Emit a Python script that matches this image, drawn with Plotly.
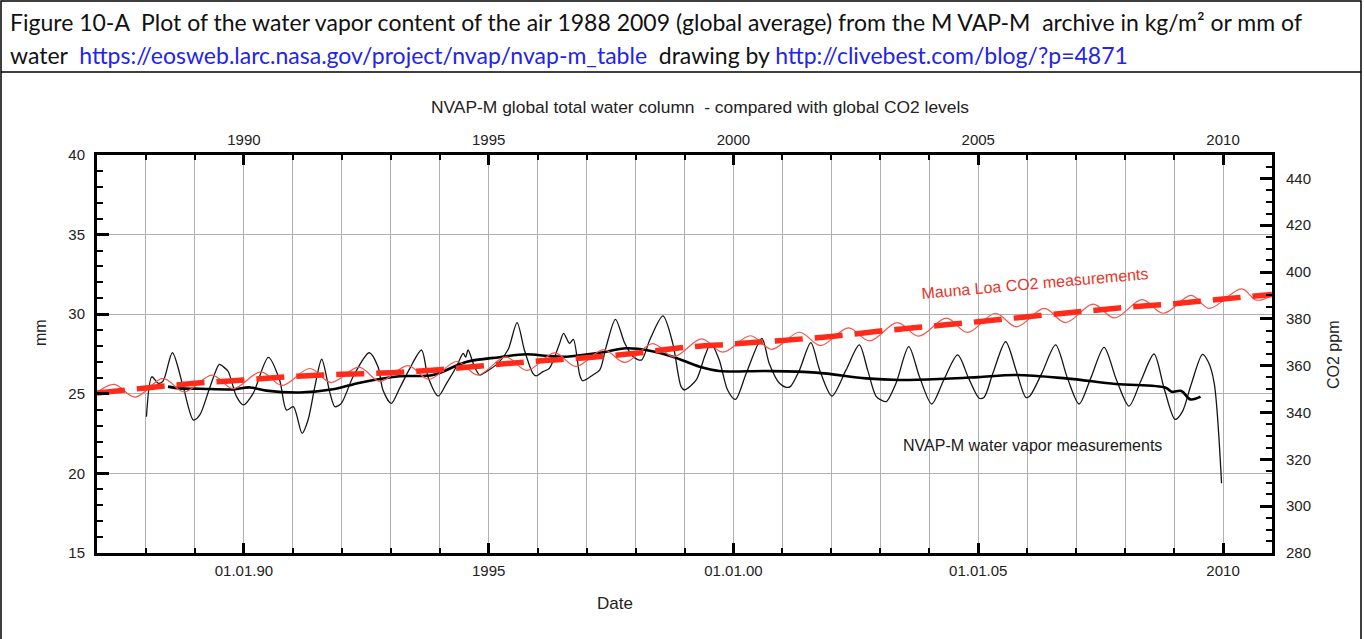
import plotly.graph_objects as go

# NVAP-M monthly global total precipitable water (mm), decimal years
wv_years = [1988.01, 1988.12, 1988.25, 1988.35, 1988.54, 1988.76, 1988.97, 1989.10, 1989.31, 1989.50,
            1989.58, 1989.68, 1989.85, 1989.99, 1990.19, 1990.50, 1990.73, 1990.87, 1991.01, 1991.19,
            1991.31, 1991.45, 1991.59, 1991.76, 1991.86, 1991.99, 1992.23, 1992.56, 1992.74, 1992.84,
            1993.01, 1993.18, 1993.39, 1993.63, 1993.76, 1993.97, 1994.14, 1994.34, 1994.48, 1994.53,
            1994.58, 1994.71, 1994.82, 1994.95, 1995.19, 1995.40, 1995.58, 1995.73, 1995.90, 1995.97,
            1996.11, 1996.24, 1996.45, 1996.53, 1996.65, 1996.73, 1996.86, 1996.92, 1997.13, 1997.27,
            1997.40, 1997.59, 1997.78, 1997.95, 1998.12, 1998.29, 1998.56, 1998.76, 1998.93, 1999.00,
            1999.24, 1999.41, 1999.54, 1999.71, 1999.88, 2000.04, 2000.26, 2000.58, 2000.73, 2000.94,
            2001.08, 2001.16, 2001.35, 2001.58, 2001.76, 2002.01, 2002.30, 2002.57, 2002.74, 2002.91,
            2003.02, 2003.12, 2003.32, 2003.58, 2003.80, 2004.05, 2004.30, 2004.58, 2004.80, 2005.02,
            2005.12, 2005.30, 2005.56, 2005.78, 2005.97, 2006.05, 2006.30, 2006.58, 2006.82, 2007.06,
            2007.30, 2007.57, 2007.82, 2008.08, 2008.32, 2008.59, 2008.80, 2009.02, 2009.17, 2009.35,
            2009.58, 2009.70, 2009.82, 2009.97]
wv_mm = [23.56, 26.07, 25.66, 25.80, 27.58, 25.45, 23.35, 23.67, 25.45, 26.85,
         26.70, 26.40, 24.82, 24.30, 25.03, 27.29, 25.87, 23.98, 24.19, 22.52,
         23.35, 25.45, 27.17, 25.03, 24.19, 24.40, 26.07, 27.58, 26.70, 25.24,
         24.40, 25.34, 26.60, 27.75, 26.07, 24.86, 25.66, 26.70, 27.54, 27.30,
         27.75, 26.70, 26.18, 26.39, 26.91, 27.80, 29.47, 27.75, 26.30, 26.12,
         26.39, 26.60, 28.17, 28.80, 28.17, 28.42, 26.18, 25.82, 26.18, 26.50,
         27.96, 29.68, 28.17, 27.33, 27.12, 28.38, 29.89, 28.17, 25.45, 25.24,
         25.87, 27.33, 28.17, 27.12, 25.24, 24.65, 26.28, 28.48, 26.91, 25.66,
         25.41, 25.45, 26.50, 28.21, 26.50, 24.86, 26.50, 28.07, 26.50, 24.86,
         24.60, 24.51, 25.66, 27.96, 26.07, 24.36, 25.90, 27.44, 26.00, 24.72,
         24.78, 26.30, 28.27, 26.40, 24.78, 24.85, 26.30, 28.07, 26.00, 24.36,
         26.00, 27.92, 25.90, 24.23, 25.80, 27.50, 25.30, 23.39, 23.88, 25.60,
         27.48, 27.00, 25.66, 19.38]

# Running mean of the water vapour series (mm)
wv_smooth_years = [1988.45, 1988.69, 1989.10, 1989.78, 1990.12, 1990.46, 1991.14, 1991.82, 1992.37, 1993.18,
                   1993.86, 1994.54, 1995.22, 1995.77, 1996.21, 1996.59, 1997.27, 1997.81, 1998.29, 1998.76,
                   1999.31, 1999.71, 2000.67, 2001.69, 2002.71, 2003.39, 2004.34, 2005.00, 2005.77, 2006.79,
                   2007.81, 2008.83, 2008.95, 2009.15, 2009.33, 2009.54]
wv_smooth_mm = [25.45, 25.34, 25.32, 25.28, 25.40, 25.20, 25.08, 25.28, 25.70, 26.10,
                26.18, 27.00, 27.30, 27.48, 27.37, 27.33, 27.58, 27.86, 27.71, 27.33,
                26.70, 26.43, 26.43, 26.33, 25.97, 25.87, 25.95, 26.05, 26.18, 25.97,
                25.62, 25.38, 25.13, 25.18, 24.65, 24.82]

# Mauna Loa CO2 with seasonal cycle (ppm)
co2_years = [1987.00, 1987.35, 1987.78, 1988.35, 1988.78, 1989.35, 1989.78, 1990.35, 1990.78, 1991.35,
             1991.78, 1992.35, 1992.78, 1993.35, 1993.78, 1994.35, 1994.78, 1995.35, 1995.78, 1996.35,
             1996.78, 1997.35, 1997.78, 1998.35, 1998.78, 1999.35, 1999.78, 2000.35, 2000.78, 2001.35,
             2001.78, 2002.35, 2002.78, 2003.35, 2003.78, 2004.35, 2004.78, 2005.35, 2005.78, 2006.35,
             2006.78, 2007.35, 2007.78, 2008.35, 2008.78, 2009.35, 2009.72, 2010.38, 2010.68, 2011.00]
co2_ppm = [348.6, 352.0, 346.6, 354.6, 348.8, 356.0, 350.2, 357.4, 351.6, 358.8,
           352.8, 359.4, 353.3, 360.0, 354.2, 361.8, 356.0, 363.8, 358.0, 365.5,
           359.7, 366.9, 361.4, 369.4, 363.8, 371.5, 365.8, 372.8, 367.0, 374.3,
           368.6, 376.2, 370.6, 378.4, 372.6, 380.3, 374.2, 382.4, 376.6, 384.5,
           378.4, 386.3, 380.4, 388.2, 382.4, 390.0, 384.5, 392.8, 388.0, 390.0]

# Deseasonalised CO2 trend (ppm) at the start of each year
co2_trend_years = [1987, 1988, 1989, 1990, 1991, 1992, 1993, 1994, 1995, 1996, 1997, 1998, 1999,
                   2000, 2001, 2002, 2003, 2004, 2005, 2006, 2007, 2008, 2009, 2010, 2011]
co2_trend_ppm = [348.3, 350.5, 352.5, 353.9, 355.4, 356.3, 357.0, 358.3, 360.2, 362.0, 363.4, 365.3, 367.8,
                 369.3, 370.8, 372.5, 374.8, 376.8, 378.8, 380.9, 382.9, 384.9, 386.5, 388.5, 390.4]

bottom_tick_vals = [1990, 1995, 2000, 2005, 2010]
bottom_tick_text = ["01.01.90", "1995", "01.01.00", "01.01.05", "2010"]
top_tick_text = ["1990", "1995", "2000", "2005", "2010"]
co2_tick_vals = [280, 300, 320, 340, 360, 380, 400, 420, 440]

W, H = 1364, 639
L, R, T, B = 97, 92, 155, 86
PW, PH = W - L - R, H - T - B


def px(x):
    return (x - L) / PW


def py(y):
    return (H - B - y) / PH


SANS = "Liberation Sans, Arial, sans-serif"
AX_FONT = dict(family=SANS, size=15, color="#222222")
GRID = "#b0b0b0"

fig = go.Figure()
fig.add_trace(go.Scatter(x=co2_years, y=co2_ppm, yaxis="y2", mode="lines",
                         line=dict(color="#f0574d", width=1.2, shape="spline", smoothing=1.0),
                         hoverinfo="skip", showlegend=False))
fig.add_trace(go.Scatter(x=co2_trend_years, y=co2_trend_ppm, yaxis="y2", mode="lines",
                         line=dict(color="#ff2a1a", width=5.5, dash="28px,12px", shape="spline"),
                         hoverinfo="skip", showlegend=False))
fig.add_trace(go.Scatter(x=wv_years, y=wv_mm, mode="lines",
                         line=dict(color="#151515", width=1.3, shape="spline", smoothing=0.8),
                         hoverinfo="skip", showlegend=False))
fig.add_trace(go.Scatter(x=wv_smooth_years, y=wv_smooth_mm, mode="lines",
                         line=dict(color="#000000", width=2.6, shape="spline"),
                         hoverinfo="skip", showlegend=False))
# carrier trace for the top year axis
fig.add_trace(go.Scatter(x=[1987, 2011], y=[15, 15], xaxis="x2", mode="markers",
                         marker=dict(opacity=0), hoverinfo="skip", showlegend=False))

fig.update_layout(
    width=W, height=H,
    margin=dict(l=L, r=R, t=T, b=B, pad=0),
    paper_bgcolor="white", plot_bgcolor="white",
    showlegend=False,
    xaxis=dict(range=[1987, 2011], tickmode="array", tickvals=bottom_tick_vals, ticktext=bottom_tick_text,
               ticks="inside", ticklen=10, tickwidth=2.5, tickcolor="black",
               showline=True, linewidth=3, linecolor="black", mirror=False,
               showgrid=True, gridcolor=GRID, gridwidth=1, zeroline=False,
               minor=dict(tickmode="linear", tick0=1987, dtick=1, ticks="inside", ticklen=5, tickwidth=1.5,
                          tickcolor="black", showgrid=True, gridcolor=GRID, gridwidth=1),
               tickfont=AX_FONT, ticklabelstandoff=2),
    xaxis2=dict(range=[1987, 2011], overlaying="x", side="top", anchor="y",
                tickmode="array", tickvals=bottom_tick_vals, ticktext=top_tick_text,
                ticks="inside", ticklen=10, tickwidth=2.5, tickcolor="black",
                showline=True, linewidth=3, linecolor="black", showgrid=False, zeroline=False,
                minor=dict(tickmode="linear", tick0=1987, dtick=1, ticks="inside", ticklen=5, tickwidth=1.5,
                           tickcolor="black", showgrid=False),
                tickfont=AX_FONT, ticklabelstandoff=1),
    yaxis=dict(range=[15, 40], tickmode="linear", tick0=15, dtick=5,
               ticks="inside", ticklen=12, tickwidth=2.5, tickcolor="black",
               showline=True, linewidth=3, linecolor="black", mirror=False,
               showgrid=True, gridcolor=GRID, gridwidth=1, zeroline=False,
               minor=dict(tickmode="linear", tick0=15, dtick=1, ticks="inside", ticklen=6, tickwidth=1.5,
                          tickcolor="black", showgrid=False),
               tickfont=AX_FONT, ticklabelstandoff=6),
    yaxis2=dict(range=[280, 450], overlaying="y", side="right", anchor="x",
                tickmode="array", tickvals=co2_tick_vals,
                ticks="inside", ticklen=12, tickwidth=2.5, tickcolor="black",
                showline=True, linewidth=3, linecolor="black", showgrid=False, zeroline=False,
                minor=dict(tickmode="linear", tick0=280, dtick=5, ticks="inside", ticklen=6, tickwidth=1.5,
                           tickcolor="black", showgrid=False),
                tickfont=AX_FONT, ticklabelstandoff=8),
)

HEAD_FONT = dict(family="Lato, Open Sans, sans-serif", size=23, color="#111111")
LINK = "#2323ee"
annotations = [
    dict(x=px(8), y=py(22), xanchor="left", yanchor="middle",
         text="Figure 10-A&nbsp; Plot of the water vapor content of the air 1988 2009 (global average) "
              "from the M VAP-M&nbsp; archive in kg/m² or mm of",
         font=HEAD_FONT),
    dict(x=px(8), y=py(55), xanchor="left", yanchor="middle",
         text="water&nbsp; <span style='color:%s'>https://eosweb.larc.nasa.gov/project/nvap/nvap-m_table</span>&nbsp; "
              "drawing by <span style='color:%s'>http://clivebest.com/blog/?p=4871</span>" % (LINK, LINK),
         font=HEAD_FONT),
    dict(x=px(700), y=py(107), xanchor="center", yanchor="middle",
         text="NVAP-M global total water column&nbsp; - compared with global CO2 levels",
         font=dict(family=SANS, size=17.4, color="#222222")),
    dict(x=px(615), y=py(603), xanchor="center", yanchor="middle", text="Date",
         font=dict(family=SANS, size=17, color="#222222")),
    dict(x=px(40), y=py(333), xanchor="center", yanchor="middle", text="mm", textangle=-90,
         font=dict(family=SANS, size=16, color="#222222")),
    dict(x=px(1333), y=py(355), xanchor="center", yanchor="middle", text="CO2 ppm", textangle=-90,
         font=dict(family=SANS, size=16, color="#222222")),
    dict(x=px(1035), y=py(283), xanchor="center", yanchor="middle", text="Mauna Loa CO2 measurements",
         textangle=-5, font=dict(family=SANS, size=16, color="#e8352b")),
    dict(x=px(1032), y=py(445), xanchor="center", yanchor="middle", text="NVAP-M water vapor measurements",
         font=dict(family=SANS, size=16, color="#1a1a1a")),
]
for a in annotations:
    a.update(xref="paper", yref="paper", showarrow=False)
fig.update_layout(annotations=annotations)

fig.update_layout(shapes=[
    dict(type="rect", xref="paper", yref="paper", x0=px(1), x1=px(1361), y0=py(1), y1=py(641),
         line=dict(color="black", width=1.5), fillcolor="rgba(0,0,0,0)", layer="above"),
    dict(type="line", xref="paper", yref="paper", x0=px(1), x1=px(1361), y0=py(72), y1=py(72),
         line=dict(color="black", width=1.5), layer="above"),
])

fig.write_html("out.html")
